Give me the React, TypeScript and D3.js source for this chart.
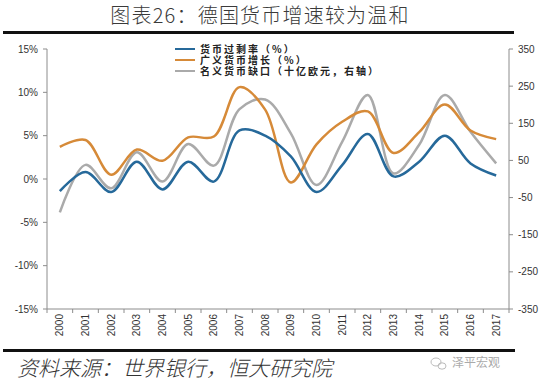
import React from "react";
import * as d3 from "d3";

const years = ["2000", "2001", "2002", "2003", "2004", "2005", "2006", "2007", "2008",
  "2009", "2010", "2011", "2012", "2013", "2014", "2015", "2016", "2017"];
// 货币过剩率 (%), left axis
const excessRate = [-1.4, 0.8, -1.5, 2.0, -1.2, 2.0, -0.3, 5.6, 5.0, 2.6, -1.5, 1.6, 5.2, 0.3, 2.0, 5.0, 1.8, 0.4];
// 广义货币增长 (%), left axis
const broadGrowth = [3.7, 4.5, 0.5, 3.4, 2.1, 4.8, 4.9, 10.6, 8.0, -0.4, 4.0, 6.6, 7.8, 3.0, 5.4, 8.6, 5.6, 4.6];
// 名义货币缺口 (十亿欧元), right axis
const moneyGap = [-90, 38, -25, 72, -7, 94, 36, 188, 214, 123, -16, 100, 226, 15, 92, 226, 127, 42];

const leftTicks = [15, 10, 5, 0, -5, -10, -15];
const rightTicks = [350, 250, 150, 50, -50, -150, -250, -350];

const legendItems = [
  { label: "货币过剩率（%）", color: "#26699a" },
  { label: "广义货币增长（%）", color: "#d68a38" },
  { label: "名义货币缺口（十亿欧元，右轴）", color: "#aaaaaa" },
];

export default function App() {
  const left = 47, right = 509, top = 49, bottom = 309;
  const x = d3.scaleBand().domain(years).range([left, right]);
  const cx = (y: string) => (x(y) as number) + x.bandwidth() / 2;
  const yL = d3.scaleLinear().domain([-15, 15]).range([bottom, top]);
  const yR = d3.scaleLinear().domain([-350, 350]).range([bottom, top]);

  const lineL = d3.line<number>().x((_, i) => cx(years[i])).y((d) => yL(d)).curve(d3.curveCatmullRom.alpha(0.5));
  const lineR = d3.line<number>().x((_, i) => cx(years[i])).y((d) => yR(d)).curve(d3.curveCatmullRom.alpha(0.5));

  const axisColor = "#8c8c8c";
  const tickFont = "'Liberation Sans', Arial, sans-serif";
  const cjk = "'Noto Sans CJK SC', sans-serif";

  return (
    <svg width={550} height={387} style={{ position: "absolute", left: 0, top: 0, background: "#fff" }}>
      <text x={260} y={23} textAnchor="middle" fontFamily={cjk} fontSize={20} fontWeight={300} letterSpacing={1.2} fill="#3a3a3a">
        图表26：德国货币增速较为温和
      </text>
      <rect x={3} y={31} width={511} height={3} fill="#111" />

      {/* axes */}
      <line x1={left} x2={left} y1={top} y2={bottom} stroke={axisColor} />
      <line x1={right} x2={right} y1={top} y2={bottom} stroke={axisColor} />
      <line x1={left} x2={right} y1={bottom} y2={bottom} stroke={axisColor} />
      {leftTicks.map((t) => (
        <g key={"l" + t}>
          <line x1={left - 4} x2={left} y1={yL(t)} y2={yL(t)} stroke={axisColor} />
          <text x={38} y={yL(t) + 3.5} textAnchor="end" fontFamily={tickFont} fontSize={10} fill="#333">
            {t}%
          </text>
        </g>
      ))}
      {rightTicks.map((t) => (
        <g key={"r" + t}>
          <line x1={right} x2={right + 4} y1={yR(t)} y2={yR(t)} stroke={axisColor} />
          <text x={518} y={yR(t) + 3.5} fontFamily={tickFont} fontSize={10} fill="#333">
            {t}
          </text>
        </g>
      ))}
      {years.map((yr) => (
        <g key={yr}>
          <line x1={x(yr)} x2={x(yr)} y1={bottom} y2={bottom + 4} stroke={axisColor} />
          <text
            transform={`translate(${cx(yr) + 3.5},${314}) rotate(-90)`}
            textAnchor="end"
            fontFamily={tickFont}
            fontSize={10}
            fill="#333"
          >
            {yr}
          </text>
        </g>
      ))}
      <line x1={right} x2={right} y1={bottom} y2={bottom + 4} stroke={axisColor} />

      {/* series */}
      <path d={lineR(moneyGap) || ""} fill="none" stroke="#aaaaaa" strokeWidth={2.5} />
      <path d={lineL(broadGrowth) || ""} fill="none" stroke="#d68a38" strokeWidth={2.5} />
      <path d={lineL(excessRate) || ""} fill="none" stroke="#26699a" strokeWidth={2.5} />

      {/* legend */}
      {legendItems.map((it, i) => (
        <g key={it.label}>
          <line x1={175} x2={195} y1={49 + i * 11} y2={49 + i * 11} stroke={it.color} strokeWidth={2} />
          <text x={200} y={52.5 + i * 11} fontFamily={cjk} fontSize={10} fontWeight={700} letterSpacing={2} fill="#222">
            {it.label}
          </text>
        </g>
      ))}

      <rect x={3} y={349} width={512} height={3} fill="#111" />
      <text x={17} y={376} fontFamily={cjk} fontSize={21} fontStyle="italic" fontWeight={300} fill="#333">
        资料来源：世界银行，恒大研究院
      </text>
      {/* watermark */}
      <g stroke="#bbb" fill="none" strokeWidth={1}>
        <ellipse cx={436} cy={362} rx={5} ry={4} />
        <ellipse cx={442} cy={366} rx={4} ry={3.2} />
      </g>
      <text x={452} y={367} fontFamily={cjk} fontSize={12} fill="#aaa">泽平宏观</text>
    </svg>
  );
}
